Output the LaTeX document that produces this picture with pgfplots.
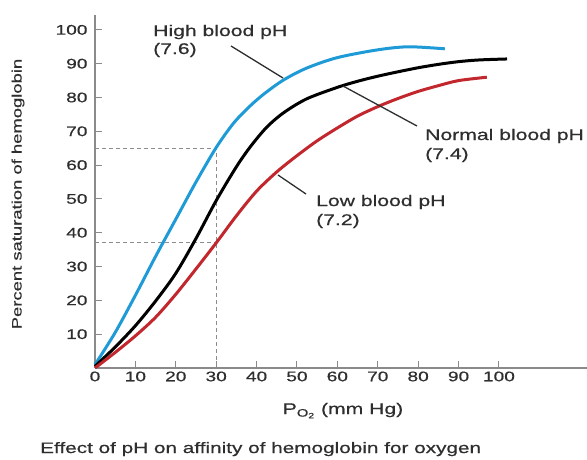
\documentclass[border=0pt]{standalone}
\usepackage{fontspec}
\setmainfont{Liberation Sans}[FakeStretch=1.37, FakeBold=0.5]
\newfontfamily\plainfont{Liberation Sans}[FakeBold=0.5]
\usepackage{pgfplots}
\pgfplotsset{compat=1.18}
\definecolor{txt}{HTML}{2E2E2E}
\definecolor{axisgray}{HTML}{8A8A8A}
\definecolor{hiblue}{HTML}{1E9AD6}
\definecolor{lowred}{HTML}{C1272D}
\definecolor{dashgray}{HTML}{8C8C8C}
\begin{document}
\begin{tikzpicture}
\path[use as bounding box] (0bp,0bp) rectangle (587bp,-460bp);
\begin{axis}[
  at={(95bp,-368bp)}, anchor=south west,
  scale only axis, width=492bp, height=353bp,
  xmin=0, xmax=121.8, ymin=0, ymax=104.4,
  axis x line=bottom, axis y line=left,
  axis line style={-, axisgray, line width=1.2bp},
  xtick={0,10,...,100}, ytick={10,20,...,100},
  tick align=inside, major tick length=7bp,
  tick style={axisgray, line width=1bp},
  ticklabel style={font=\fontsize{14}{16}\selectfont, text=txt},
  /pgf/number format/assume math mode=true,
  yticklabel style={xshift=-4bp},
  clip=false,
]
% reference dashed lines
\draw[dashgray, line width=0.9bp, dash pattern=on 4bp off 3bp] (axis cs:0,65) -- (axis cs:30,65) -- (axis cs:30,0);
\draw[dashgray, line width=0.9bp, dash pattern=on 4bp off 3bp] (axis cs:0,37) -- (axis cs:30,37);
% High blood pH (7.6)
\addplot[hiblue, line width=3bp, smooth] coordinates {
(0,1) (5,10.5) (10,21.5) (15,33) (20,44) (25,55) (30,65.2) (34.3,72.4) (38.4,77.5)
(42,81.2) (46.7,85.2) (52.4,88.7) (60,91.8) (70,94.1) (77.6,95) (86.6,94.4)};
% Normal blood pH (7.4)
\addplot[black, line width=3bp, smooth] coordinates {
(0,0.5) (5,6.2) (10,12.5) (15,19.8) (20,28) (25,38.3) (30,49.5) (35,59.5) (38.5,65.5)
(42.5,71.2) (46.7,75.5) (52.4,79.6) (60,83) (65,84.8) (70,86.3) (75,87.6) (80,88.8)
(85,89.8) (90,90.6) (95,91.1) (102,91.4)};
% Low blood pH (7.2)
\addplot[lowred, line width=3bp, smooth] coordinates {
(0,0) (5,4.6) (10,9.5) (15,15) (20,21.8) (25,29.3) (30,37) (35,45) (40,52.3) (45,58)
(50,62.8) (55,67.2) (60,71) (65,74.5) (70,77.3) (75,79.7) (80,81.8) (85,83.5) (90,85) (97,86)};
\end{axis}
% leader lines
\draw[txt, line width=1.3bp] (231bp,-46bp) -- (283bp,-78bp);
\draw[txt, line width=1.3bp] (343bp,-86bp) -- (417bp,-126bp);
\draw[txt, line width=1.3bp] (278bp,-175bp) -- (306bp,-194bp);
% annotations
\begin{scope}[every node/.style={text=txt, font=\fontsize{15.5}{17}\selectfont, inner sep=0pt}]
\node[anchor=base west] at (153bp,-36bp) {High blood pH};
\node[anchor=base west] at (153bp,-54bp) {(7.6)};
\node[anchor=base west] at (425bp,-140bp) {Normal blood pH};
\node[anchor=base west] at (425bp,-159bp) {(7.4)};
\node[anchor=base west] at (316bp,-206bp) {Low blood pH};
\node[anchor=base west] at (316bp,-225bp) {(7.2)};
\node[anchor=base] at (343bp,-414bp) {P\textsubscript{O\textsubscript{2}} (mm Hg)};
\node[anchor=base west, font=\fontsize{15.2}{17}\selectfont] at (40bp,-453bp) {Effect of pH on affinity of hemoglobin for oxygen};
\node[rotate=90, anchor=center] at (18bp,-194bp) {\scalebox{1}[0.75]{\plainfont\fontsize{18.5}{20}\selectfont Percent saturation of hemoglobin}};
\end{scope}
\end{tikzpicture}
\end{document}
